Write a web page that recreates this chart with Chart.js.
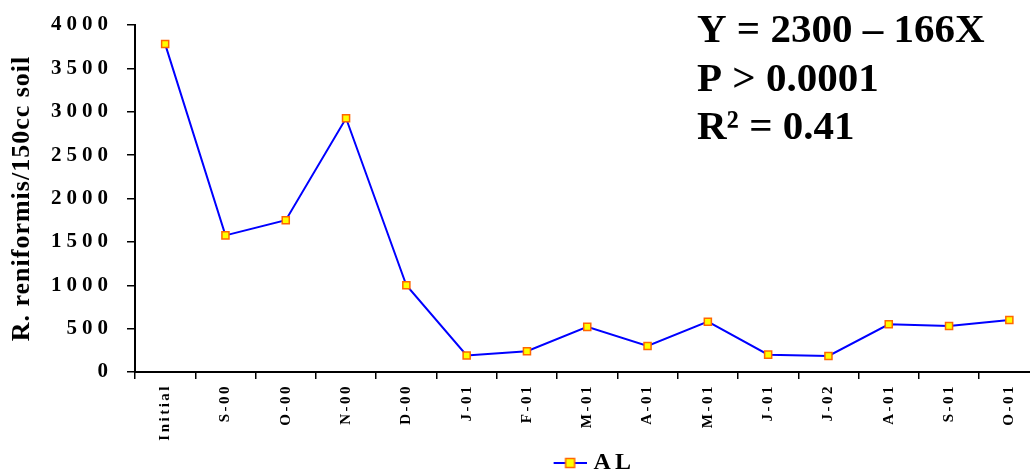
<!DOCTYPE html>
<html>
<head>
<meta charset="utf-8">
<script src="https://cdn.jsdelivr.net/npm/chart.js@4/dist/chart.umd.min.js"></script>
<style>
  html, body { margin: 0; padding: 0; background: #fff; overflow: hidden; }
  /* the plot runs a little past the right edge of the window, as in the original */
  #chart { display: block; width: 1046px; height: 474px; }
</style>
</head>
<body>
<canvas id="chart" width="1046" height="474"></canvas>
<script>
// Sampling dates and nematode counts
const categories = ['Initial', 'S-00', 'O-00', 'N-00', 'D-00', 'J-01', 'F-01', 'M-01',
                    'A-01', 'M-01', 'J-01', 'J-02', 'A-01', 'S-01', 'O-01'];
const alCounts = [3780, 1575, 1750, 2925, 1000, 190, 240, 520, 300, 580, 200, 185, 550, 530, 600];
const yTicks = [0, 500, 1000, 1500, 2000, 2500, 3000, 3500, 4000];
const fitLines = ['Y = 2300 \u2013 166X', 'P > 0.0001', 'R\u00B2 = 0.41'];

const SERIF = '"Liberation Serif", "Times New Roman", serif';
const LINE_BLUE = '#0000FF';
const MARKER_FILL = '#FFFF00';
const MARKER_EDGE = '#FF6600';

// Legend symbol: short line with the square marker in the middle
// (left part of the image is empty so the symbol sits closer to the text)
function legendSymbol() {
    const c = document.createElement('canvas');
    c.width = 52;
    c.height = 12;
    const g = c.getContext('2d');
    g.strokeStyle = LINE_BLUE;
    g.lineWidth = 2;
    g.beginPath();
    g.moveTo(19, 6);
    g.lineTo(52, 6);
    g.stroke();
    g.fillStyle = MARKER_FILL;
    g.fillRect(31, 1.5, 9, 9);
    g.strokeStyle = MARKER_EDGE;
    g.lineWidth = 1.5;
    g.strokeRect(31, 1.5, 9, 9);
    return c;
}

// wrap a draw method so it runs with its own letter spacing
function withSpacing(obj, method, spacing) {
    const flag = '_sp_' + method;
    if (!obj || obj[flag]) return;
    const orig = obj[method];
    obj[method] = function (...args) {
        const prev = this.ctx.letterSpacing;
        this.ctx.letterSpacing = spacing;
        orig.apply(this, args);
        this.ctx.letterSpacing = prev;
    };
    obj[flag] = true;
}

// The original uses wide character spacing on axis text
const spacingPlugin = {
    id: 'spacing',
    beforeLayout(chart) {
        chart.ctx.letterSpacing = '4px';
    },
    beforeDraw(chart) {
        chart.ctx.letterSpacing = '4px';
        withSpacing(chart.scales.y, 'drawTitle', '1px');
        withSpacing(chart.scales.y, 'drawLabels', '5px');
        withSpacing(chart.scales.x, 'drawLabels', '2.5px');
    }
};

// Regression text in the upper right
const fitTextPlugin = {
    id: 'fitText',
    afterDraw(chart) {
        const ctx = chart.ctx;
        ctx.save();
        ctx.letterSpacing = '0px';
        ctx.fillStyle = '#000';
        ctx.font = 'bold 41px ' + SERIF;
        ctx.textAlign = 'left';
        ctx.textBaseline = 'alphabetic';
        const baselines = [42, 91, 139];
        fitLines.forEach((line, i) => ctx.fillText(line, 697, baselines[i]));
        ctx.restore();
    }
};

new Chart(document.getElementById('chart'), {
    type: 'line',
    data: {
        labels: categories,
        datasets: [{
            label: 'AL',
            data: alCounts,
            borderColor: LINE_BLUE,
            borderWidth: 2,
            tension: 0,
            pointStyle: 'rect',
            pointRadius: 5,
            pointBorderWidth: 1.5,
            pointBackgroundColor: MARKER_FILL,
            pointBorderColor: MARKER_EDGE
        }]
    },
    options: {
        responsive: false,
        animation: false,
        layout: {
            padding: { top: 25, left: 0, right: 0, bottom: -11 }
        },
        plugins: {
            legend: {
                display: true,
                position: 'bottom',
                fullSize: false,
                labels: {
                    usePointStyle: true,
                    pointStyle: legendSymbol(),
                    pointStyleWidth: 42,
                    color: '#000',
                    padding: 2,
                    font: { family: SERIF, size: 24, weight: 'bold' }
                }
            },
            tooltip: { enabled: false }
        },
        scales: {
            x: {
                offset: true,
                grid: {
                    display: true,
                    drawOnChartArea: false,
                    offset: true,
                    tickLength: 7,
                    color: '#000',
                    lineWidth: 1.5
                },
                border: { color: '#000', width: 2 },
                ticks: {
                    autoSkip: false,
                    maxRotation: 90,
                    minRotation: 90,
                    padding: 5,
                    color: '#000',
                    font: { family: SERIF, size: 15, weight: 'bold' }
                },
                afterFit(scale) {
                    scale.height = 77;
                    scale.paddingLeft = 0;
                    scale.paddingRight = 0;
                }
            },
            y: {
                min: yTicks[0],
                max: yTicks[yTicks.length - 1],
                grid: {
                    display: true,
                    drawOnChartArea: false,
                    tickLength: 8,
                    color: '#000',
                    lineWidth: 1.5
                },
                border: { color: '#000', width: 2 },
                ticks: {
                    stepSize: yTicks[1] - yTicks[0],
                    padding: 14,
                    color: '#000',
                    font: { family: SERIF, size: 21, weight: 'bold' },
                    callback: (value) => String(value)
                },
                title: {
                    display: true,
                    text: 'R. reniformis/150cc soil',
                    color: '#000',
                    padding: { top: 7, bottom: 0 },
                    font: { family: SERIF, size: 26, weight: 'bold' }
                },
                afterFit(scale) {
                    scale.width = 135;
                    scale.paddingTop = 0;
                    scale.paddingBottom = 0;
                }
            }
        }
    },
    plugins: [spacingPlugin, fitTextPlugin]
});
</script>
</body>
</html>
